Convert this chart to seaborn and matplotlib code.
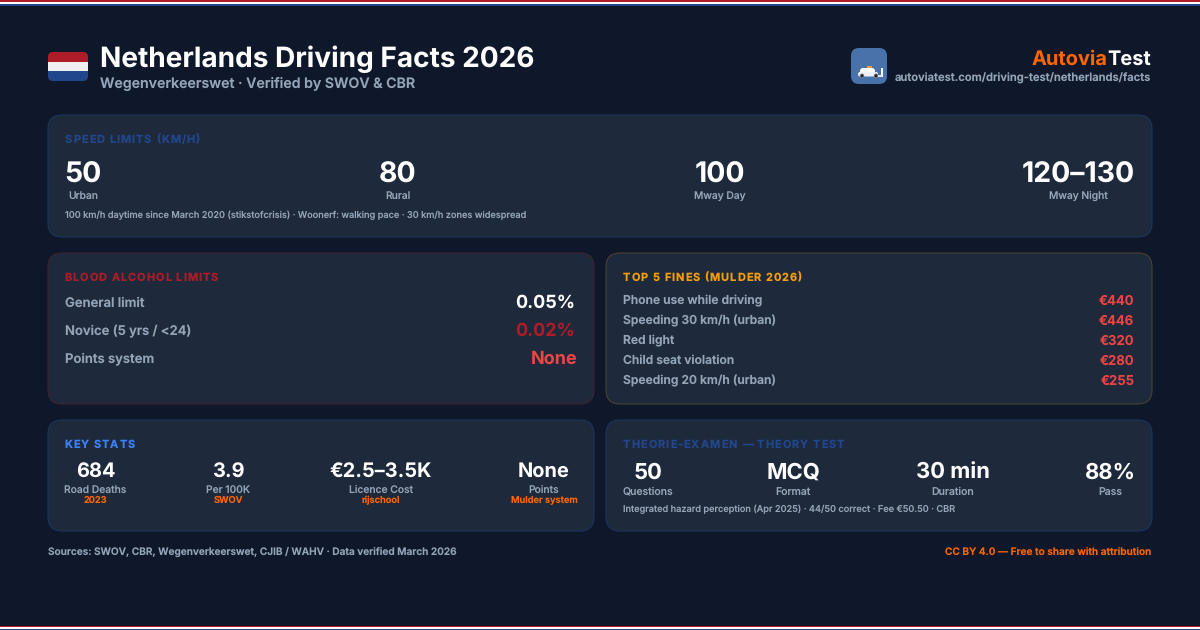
import matplotlib
matplotlib.use("Agg")
import matplotlib.pyplot as plt
from matplotlib.patches import FancyBboxPatch, Rectangle, Circle
import seaborn as sns

sns.set_theme(style="dark")
plt.rcParams['font.family'] = ['Inter', 'DejaVu Sans']
plt.rcParams['text.hinting'] = 'no_hinting'
plt.rcParams['text.hinting_factor'] = 1

BG = "#0f182b"; CARD = "#1e293b"; GREY = "#94a3b8"; WHITE = "#ffffff"
NL_RED = "#ae1c28"; NL_BLUE = "#21468b"; ORANGE = "#ff6600"; FINE = "#ef4444"

title = "Netherlands Driving Facts 2026"
subtitle = "Wegenverkeerswet · Verified by SWOV & CBR"
speed_values = ["50", "80", "100", "120–130"]
speed_labels = ["Urban", "Rural", "Mway Day", "Mway Night"]
speed_note = "100 km/h daytime since March 2020 (stikstofcrisis) · Woonerf: walking pace · 30 km/h zones widespread"
alcohol_labels = ["General limit", "Novice (5 yrs / <24)", "Points system"]
alcohol_values = ["0.05%", "0.02%", "None"]
fine_labels = ["Phone use while driving", "Speeding 30 km/h (urban)", "Red light",
               "Child seat violation", "Speeding 20 km/h (urban)"]
fine_values = ["€440", "€446", "€320", "€280", "€255"]
stat_values = ["684", "3.9", "€2.5–3.5K", "None"]
stat_labels = ["Road Deaths", "Per 100K", "Licence Cost", "Points"]
stat_subs = ["2023", "SWOV", "rijschool", "Mulder system"]
theory_values = ["50", "MCQ", "30 min", "88%"]
theory_labels = ["Questions", "Format", "Duration", "Pass"]
theory_note = "Integrated hazard perception (Apr 2025) · 44/50 correct · Fee €50.50 · CBR"
footer_left = "Sources: SWOV, CBR, Wegenverkeerswet, CJIB / WAHV · Data verified March 2026"
footer_right = "CC BY 4.0 — Free to share with attribution"

fig = plt.figure(figsize=(12, 6.3), dpi=100, facecolor=BG)
ax = fig.add_axes([0, 0, 1, 1])
ax.set_xlim(0, 1200); ax.set_ylim(630, 0); ax.axis("off")
sns.despine(ax=ax, left=True, bottom=True)
rend = fig.canvas.get_renderer()
PX = 0.72


def T(x, y, s, size, color=WHITE, ha="left", weight="normal", **kw):
    return ax.text(x, y, s, fontsize=size * PX, color=color, ha=ha, va="baseline", weight=weight, **kw)


def spaced(x, y, s, size, color, spacing, weight="bold"):
    bar = T(0, 0, "|", size, weight=weight)
    bw = bar.get_window_extent(rend).width
    for i, ch in enumerate(s):
        w0 = 0
        if i:
            p = T(0, 0, s[:i] + "|", size, weight=weight)
            w0 = p.get_window_extent(rend).width - bw
            p.remove()
        T(x + w0 + spacing * i, y, ch, size, color, weight=weight)
    bar.remove()


def card(x0, y0, x1, y1, edge):
    ax.add_patch(FancyBboxPatch((x0, y0), x1 - x0, y1 - y0, boxstyle="round,pad=0,rounding_size=14",
                                fc=CARD, ec=edge, lw=0.72, mutation_aspect=1))


# stripes
for y, h, c in [(0, 2, NL_RED), (2, 2, "#ffffff"), (4, 2, NL_BLUE),
                (626, 1.4, NL_RED), (627.4, 1.2, "#ffffff"), (628.6, 1.4, NL_BLUE)]:
    ax.add_patch(Rectangle((0, y), 1200, h, fc=c, ec="none"))

# flag
clip = FancyBboxPatch((48, 52), 40, 29, boxstyle="round,pad=0,rounding_size=5", fc="none", ec="none")
ax.add_patch(clip)
for y, h, c in [(52, 10, NL_RED), (62, 9, "#f0f0f0"), (71, 10, NL_BLUE)]:
    r = Rectangle((48, y), 40, h, fc=c, ec="none")
    ax.add_patch(r); r.set_clip_path(clip)

T(100, 67, title, 28, WHITE, weight="bold")
T(100, 88, subtitle, 14.15, GREY, weight="semibold")

# logo
ax.add_patch(FancyBboxPatch((851, 48), 36, 36, boxstyle="round,pad=0,rounding_size=8", fc="#4a72aa", ec="none"))
ax.add_patch(Rectangle((867, 65.5), 5, 2.5, fc="#f0a030", ec="none"))
ax.add_patch(FancyBboxPatch((860, 68), 15, 6, boxstyle="round,pad=0,rounding_size=3", fc="white", ec="none"))
ax.add_patch(FancyBboxPatch((858, 72), 20, 4.5, boxstyle="round,pad=0,rounding_size=2", fc="#eef2f8", ec="none"))
ax.add_patch(Circle((862, 75.8), 1.9, fc="#222", ec="#888", lw=.5))
ax.add_patch(Circle((876, 75.8), 1.9, fc="#222", ec="#888", lw=.5))
ax.add_patch(Rectangle((880.5, 68), 2.5, 9, fc="white", ec="none"))
ax.add_patch(Rectangle((878, 74.5), 4, 2.5, fc="#dde6f2", ec="none"))

b2 = T(1151.5, 65, "Test", 20, WHITE, ha="right", weight="bold")
w = b2.get_window_extent(rend).width
T(1151.5 - w, 65, "Autovia", 20, ORANGE, ha="right", weight="bold")
T(1151.5, 82, "autoviatest.com/driving-test/netherlands/facts", 11.2, GREY, ha="right", weight="semibold")

# speed card
card(48, 115, 1152, 237, "#1f3560")
spaced(65, 143, "SPEED LIMITS (KM/H)", 11, NL_BLUE, 1.0)
for x, v, l in zip([83, 397.5, 720, 1078.5], speed_values, speed_labels):
    T(x, 183, v, 28.4, WHITE, ha="center", weight="bold")
    T(x, 199, l, 10.3, GREY, ha="center", weight="medium")
T(65, 218, speed_note, 9.2, GREY, weight="medium")

# alcohol
card(48, 253, 594, 404, "#43232f")
spaced(64.5, 281, "BLOOD ALCOHOL LIMITS", 11, NL_RED, 1.0)
for y, l, v, c, r, dy in zip([307, 335, 363], alcohol_labels, alcohol_values, [WHITE, NL_RED, FINE],
                             [575.5, 575.5, 577], [0, 0, -0.6]):
    T(65, y + dy, l, 13.1, GREY, weight="semibold")
    T(r, y + 1, v, 18, c, ha="right", weight="bold")

# fines
card(606, 253, 1152, 404, "#4b4630")
spaced(623, 281, "TOP 5 FINES (MULDER 2026)", 11, "#f59e0b", 1.0)
for y, l, v in zip([304, 324, 344, 364, 384], fine_labels, fine_values):
    T(623, y, l, 12.1, GREY, weight="semibold")
    T(1134.5, y + 0.5, v, 13.3, FINE, ha="right", weight="semibold")

# stats
card(48, 420, 594, 531, "#1f3560")
spaced(64.5, 448, "KEY STATS", 11, "#3b82f6", 1.0)
for x, v, l, s, d1, d2, d3 in zip([95.5, 228, 381, 544], stat_values, stat_labels, stat_subs,
                                  [0, 0.6, 0, 0], [-0.6, 0, -0.6, -0.6], [0, 0, 0, -0.6]):
    T(x, 477 + d1, v, 20, WHITE, ha="center", weight="bold")
    T(x, 493 + d2, l, 10.3, GREY, ha="center", weight="medium")
    T(x, 503 + d3, s, 9.3, ORANGE, ha="center", weight="semibold")

# theory
card(606, 420, 1152, 531, "#1f3560")
spaced(623, 448, "THEORIE-EXAMEN — THEORY TEST", 11, NL_BLUE, 1.0)
for x, v, l, d in zip([648, 793, 953, 1110], theory_values, theory_labels, [-0.6, 0.6, 0, 0.6]):
    T(x, 479, v, 22, WHITE, ha="center", weight="bold")
    T(x, 495 + d, l, 10.5, GREY, ha="center", weight="medium")
T(623, 512, theory_note, 9.2, GREY, weight="medium")

# footer
T(48, 555.6, footer_left, 10.1, GREY, weight="semibold")
T(1151, 555.6, footer_right, 10.1, ORANGE, ha="right", weight="semibold")

fig.savefig("out.png", dpi=100, facecolor=BG)
